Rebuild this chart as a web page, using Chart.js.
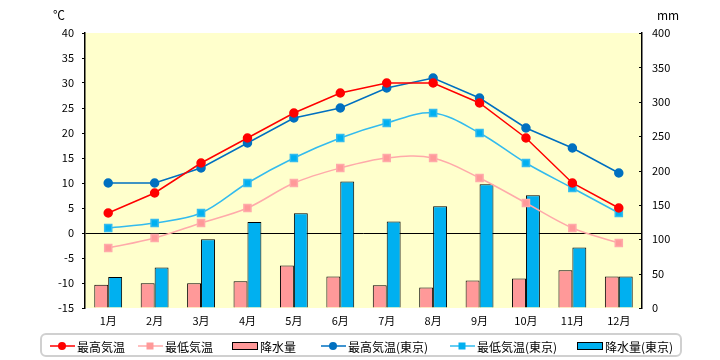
<!DOCTYPE html>
<html>
<head>
<meta charset="utf-8">
<script src="https://cdn.jsdelivr.net/npm/chart.js@4.4.1/dist/chart.umd.min.js"></script>
<style>
  body { margin: 0; background: #fff; font-family: "Noto Sans CJK JP", sans-serif; }
  #wrap { position: relative; width: 720px; height: 360px; }
  .unit { position: absolute; top: 6px; font-size: 12px; color: #000; }
  #legend { position: absolute; left: 40px; top: 333px; width: 642px; height: 24px;
            border: 2px solid #d0d0d0; border-radius: 6px; box-sizing: border-box; }
  .item { position: absolute; top: 2px; height: 18px; display: flex; align-items: center;
          font-size: 12px; color: #000; white-space: nowrap; }
</style>
</head>
<body>
<div id="wrap">
  <canvas id="climateChart" width="720" height="360"></canvas>
  <span class="unit" style="left:53px">℃</span>
  <span class="unit" style="left:657px">mm</span>
  <div id="legend"></div>
</div>
<script>
const months = ["1月", "2月", "3月", "4月", "5月", "6月", "7月", "8月", "9月", "10月", "11月", "12月"];

const highTemp = [4, 8, 14, 19, 24, 28, 30, 30, 26, 19, 10, 5];
const lowTemp = [-3, -1, 2, 5, 10, 13, 15, 15, 11, 6, 1, -2];
const rain = [34, 36, 36, 39, 62, 46, 33, 30, 40, 43, 55, 46];

const highTokyo = [10, 10, 13, 18, 23, 25, 29, 31, 27, 21, 17, 12];
const lowTokyo = [1, 2, 4, 10, 15, 19, 22, 24, 20, 14, 9, 4];
const rainTokyo = [45, 59, 100, 125, 138, 184, 126, 148, 180, 164, 88, 46];

const tempTicks = { min: -15, max: 40, step: 5 };
const rainTicks = { min: 0, max: 400, step: 50 };

// plot area background
const plotBg = {
  id: "plotBg",
  beforeDraw(chart) {
    const { ctx, chartArea: a } = chart;
    ctx.save();
    ctx.fillStyle = "#FFFFCC";
    ctx.fillRect(a.left, a.top, a.right - a.left, a.bottom - a.top);
    ctx.restore();
  }
};

// right axis ticks point into the plot
const innerTicks = {
  id: "innerTicks",
  afterDraw(chart) {
    const s = chart.scales.y2;
    const c = chart.ctx;
    c.save();
    c.strokeStyle = "#000";
    c.lineWidth = 1;
    s.ticks.forEach(t => {
      const y = Math.round(s.getPixelForValue(t.value)) + 0.5;
      c.beginPath();
      c.moveTo(s.left, y);
      c.lineTo(s.left - 3, y);
      c.stroke();
    });
    c.restore();
  }
};

const ctx = document.getElementById("climateChart").getContext("2d");

new Chart(ctx, {
  data: {
    labels: months,
    datasets: [
      { type: "line", label: "最高気温", data: highTemp, yAxisID: "y", order: 1,
        borderColor: "#FF0000", backgroundColor: "#FF0000", borderWidth: 1.5,
        pointStyle: "circle", pointRadius: 4, tension: 0 },
      { type: "line", label: "最低気温", data: lowTemp, yAxisID: "y", order: 1,
        borderColor: "#FFAAAA", backgroundColor: "#FF9999", borderWidth: 1.5,
        pointStyle: "rect", pointRadius: 5, tension: 0.35 },
      { type: "bar", label: "降水量", data: rain, yAxisID: "y2", order: 2,
        backgroundColor: "#FF9999", borderColor: "#000", borderWidth: 1,
        categoryPercentage: 0.6, barPercentage: 1.0 },
      { type: "line", label: "最高気温(東京)", data: highTokyo, yAxisID: "y", order: 1,
        borderColor: "#0070C0", backgroundColor: "#0070C0", borderWidth: 1.5,
        pointStyle: "circle", pointRadius: 4, tension: 0 },
      { type: "line", label: "最低気温(東京)", data: lowTokyo, yAxisID: "y", order: 1,
        borderColor: "#33BBEE", backgroundColor: "#00B0F0", borderWidth: 1.5,
        pointStyle: "rect", pointRadius: 5, tension: 0.35 },
      { type: "bar", label: "降水量(東京)", data: rainTokyo, yAxisID: "y2", order: 2,
        backgroundColor: "#00B0F0", borderColor: "#000", borderWidth: 1,
        categoryPercentage: 0.6, barPercentage: 1.0 }
    ]
  },
  options: {
    responsive: false,
    animation: false,
    layout: { padding: { top: 33, left: 0, right: 0, bottom: 0 } },
    plugins: { legend: { display: false }, tooltip: { enabled: false } },
    scales: {
      x: {
        grid: { display: false },
        border: { display: false },
        ticks: { color: "#000", font: { family: "Noto Sans CJK JP", size: 11 }, padding: -2 },
        afterFit(s) { s.height = 52; }
      },
      y: {
        position: "left",
        min: tempTicks.min, max: tempTicks.max,
        ticks: { stepSize: tempTicks.step, color: "#000", padding: 8,
                 font: { family: "Noto Sans CJK JP", size: 11 } },
        grid: {
          color: c => c.tick && c.tick.value === 0 ? "#000" : "rgba(0,0,0,0)",
          lineWidth: 1, tickColor: "#000", tickLength: 3
        },
        border: { display: true, color: "#000", width: 1.5 },
        afterFit(s) { s.width = 85; }
      },
      y2: {
        position: "right",
        min: rainTicks.min, max: rainTicks.max,
        ticks: { stepSize: rainTicks.step, color: "#000", padding: 10,
                 font: { family: "Noto Sans CJK JP", size: 11 } },
        grid: { drawOnChartArea: false, drawTicks: false },
        border: { display: true, color: "#000", width: 1.5 },
        afterFit(s) { s.width = 78; }
      }
    }
  },
  plugins: [plotBg, innerTicks]
});

// legend drawn as html, one item per dataset
const legendItems = [
  { text: "最高気温", kind: "line", color: "#FF0000", marker: "circle" },
  { text: "最低気温", kind: "line", color: "#FFAAAA", marker: "rect", fill: "#FF9999" },
  { text: "降水量", kind: "box", color: "#FF9999" },
  { text: "最高気温(東京)", kind: "line", color: "#0070C0", marker: "circle" },
  { text: "最低気温(東京)", kind: "line", color: "#33BBEE", marker: "rect", fill: "#00B0F0" },
  { text: "降水量(東京)", kind: "box", color: "#00B0F0" }
];
const legendX = [8, 96, 190, 279, 408, 535];

const legend = document.getElementById("legend");
legendItems.forEach((it, i) => {
  const el = document.createElement("div");
  el.className = "item";
  el.style.left = legendX[i] + "px";
  let icon;
  if (it.kind === "line") {
    const m = it.marker === "circle"
      ? `<circle cx="12" cy="6" r="4" fill="${it.color}"/>`
      : `<rect x="8.5" y="2.5" width="7" height="7" fill="${it.fill}"/>`;
    icon = `<svg width="25" height="12"><line x1="0" y1="6" x2="25" y2="6" stroke="${it.color}" stroke-width="1.5"/>${m}</svg>`;
  } else {
    icon = `<svg width="26" height="12"><rect x="0.5" y="2.5" width="25" height="7" fill="${it.color}" stroke="#000" stroke-width="1"/></svg>`;
  }
  el.innerHTML = icon + `<span style="margin-left:2px">${it.text}</span>`;
  legend.appendChild(el);
});
</script>
</body>
</html>
